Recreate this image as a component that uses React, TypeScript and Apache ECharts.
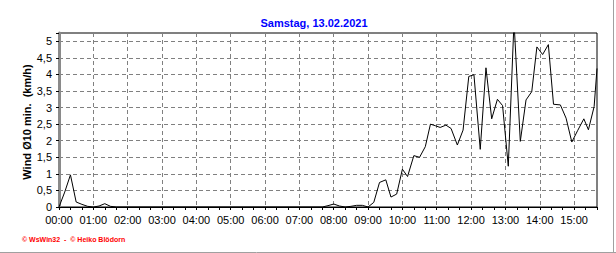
import React, { useEffect, useRef } from "react";
import * as echarts from "echarts";

const titleText = "Samstag, 13.02.2021";
const yAxisTitle = "Wind Ø10 min.  (km/h)";
const footerText = "© WsWin32  -  © Heiko Blödorn";

// minutes since 00:00
const times = [
  0, 10, 20, 30, 40, 50, 60, 70, 80, 90, 100, 460, 470, 480, 490, 500, 510,
  520, 530, 540, 550, 560, 571, 580, 590, 600, 609, 620, 630, 640, 649, 658,
  666, 676, 685, 696, 706, 716, 725, 736, 746, 756, 766, 775, 785, 795, 806,
  816, 826, 835, 845, 855, 864, 876, 886, 896, 906, 917, 925, 935, 940,
];
const windValues = [
  0, 0.45, 0.97, 0.15, 0.08, 0.02, 0, 0.03, 0.1, 0.02, 0, 0, 0.04, 0.09, 0.03,
  0, 0.02, 0.05, 0.05, 0, 0.14, 0.74, 0.82, 0.3, 0.39, 1.14, 0.92, 1.55, 1.5,
  1.82, 2.5, 2.45, 2.4, 2.47, 2.37, 1.87, 2.32, 3.94, 3.99, 1.74, 4.2, 2.66,
  3.25, 3.06, 1.23, 5.6, 1.98, 3.23, 3.48, 4.83, 4.6, 4.9, 3.1, 3.08, 2.68,
  1.96, 2.3, 2.66, 2.33, 3.03, 4.18,
];

const X_MAX = 940;
const Y_MAX = 5.25;

export default function App() {
  const ref = useRef<HTMLDivElement>(null);
  useEffect(() => {
    if (!ref.current) return;
    const chart = echarts.init(ref.current, null, { renderer: "svg" });
    const font = "Arial, 'Liberation Sans', sans-serif";
    chart.setOption({
      animation: false,
      backgroundColor: "#ffffff",
      grid: {
        left: 59,
        right: 19,
        top: 33,
        bottom: 46,
        show: true,
        borderColor: "#000000",
        borderWidth: 1,
        backgroundColor: "transparent",
      },
      title: {
        text: titleText,
        left: 309,
        top: 12,
        textAlign: "center",
        textStyle: {
          color: "#0000ff",
          fontSize: 11,
          fontWeight: "bold",
          fontFamily: font,
        },
      },
      xAxis: {
        type: "value",
        min: 0,
        max: X_MAX,
        interval: 60,
        axisLine: { show: true, lineStyle: { color: "#000", width: 1 } },
        axisTick: { show: true, length: 3, lineStyle: { color: "#000" } },
        minorTick: { show: true, splitNumber: 3, length: 3, lineStyle: { color: "#000" } },
        axisLabel: {
          margin: 7,
          color: "#000",
          fontSize: 11,
          fontFamily: font,
          formatter: (v: number) => {
            if (v % 60 !== 0) return "";
            const h = v / 60;
            return (h < 10 ? "0" : "") + h + ":00";
          },
        },
        splitLine: {
          show: true,
          lineStyle: { color: "#808080", type: [4, 3], width: 1 },
        },
      },
      yAxis: {
        type: "value",
        min: 0,
        max: Y_MAX,
        interval: 0.5,
        axisLine: { show: true, lineStyle: { color: "#8a8a8a", width: 3 } },
        axisTick: { show: true, length: 3, lineStyle: { color: "#000" } },
        axisLabel: {
          margin: 7,
          color: "#000",
          fontSize: 11,
          fontFamily: font,
          formatter: (v: number) => {
            if (Math.abs(v * 2 - Math.round(v * 2)) > 1e-6 || v > 5.01) return "";
            return String(v).replace(".", ",");
          },
        },
        splitLine: {
          show: true,
          lineStyle: { color: "#808080", type: [4, 3], width: 1 },
        },
      },
      series: [
        {
          type: "line",
          data: times.map((t, i) => [t, windValues[i]]),
          showSymbol: false,
          symbol: "none",
          clip: true,
          lineStyle: { color: "#000", width: 1 },
          z: 5,
        },
      ],
      graphic: [
        {
          type: "text",
          x: 27,
          y: 122,
          rotation: Math.PI / 2,
          style: {
            text: yAxisTitle,
            x: 0,
            y: 0,
            fill: "#000",
            font: "bold 11px " + font,
            textAlign: "center",
            textVerticalAlign: "middle",
          },
        },
        {
          type: "text",
          x: 22,
          y: 239,
          style: {
            text: footerText,
            fill: "#ff0000",
            font: "bold 7px " + font,
            textVerticalAlign: "middle",
          },
        },
        {
          type: "line",
          shape: { x1: 0, y1: 252.5, x2: 616, y2: 252.5 },
          style: { stroke: "#a0a0a0", lineWidth: 1 },
        },
        {
          type: "line",
          shape: { x1: 613.5, y1: 0, x2: 613.5, y2: 253 },
          style: { stroke: "#a0a0a0", lineWidth: 1 },
        },
      ],
    });
    return () => chart.dispose();
  }, []);
  return (
    <div
      ref={ref}
      style={{ position: "fixed", left: 0, top: 0, width: 616, height: 253 }}
    />
  );
}
